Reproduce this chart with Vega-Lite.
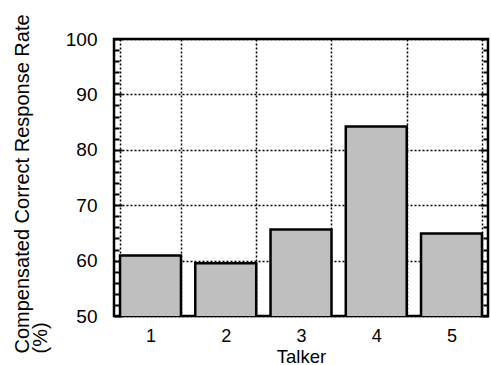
{
  "$schema": "https://vega.github.io/schema/vega-lite/v6.json",
  "autosize": "none",
  "width": 374,
  "height": 277,
  "padding": {"left": 114, "top": 39, "right": 3, "bottom": 49},
  "background": "white",
  "config": {
    "view": {"stroke": "black", "strokeWidth": 2.5},
    "font": "Liberation Sans",
    "axis": {"domain": false, "labelColor": "black", "titleColor": "black", "labelFont": "Liberation Sans", "titleFont": "Liberation Sans", "tickColor": "black"},
    "axisX": {"labelFontSize": 18, "titleFontSize": 18.5, "titleFontWeight": "normal"}
  },
  "data": {"values": [
    {"talker": "1", "rate": 60.9},
    {"talker": "2", "rate": 59.5},
    {"talker": "3", "rate": 65.6},
    {"talker": "4", "rate": 84.2},
    {"talker": "5", "rate": 64.9}
  ]},
  "encoding": {
    "x": {"field": "talker", "type": "ordinal", "scale": {"paddingInner": 0.19, "paddingOuter": 0.08},
      "axis": {"title": "Talker", "labelAngle": 0, "labelFontSize": 18, "labelPadding": 11, "titleFontSize": 18.5, "titleFontWeight": "normal", "titlePadding": 2, "ticks": false, "grid": true, "tickBand": "extent", "gridDash": [2, 2], "gridColor": "black", "gridWidth": 1.5, "gridOpacity": 1}}
  },
  "resolve": {"axis": {"y": "independent"}},
  "layer": [
    {
      "mark": {"type": "bar", "fill": "#bfbfbf", "stroke": "black", "strokeWidth": 2.5, "clip": true},
      "encoding": {
        "y": {"field": "rate", "type": "quantitative", "scale": {"domain": [50, 100], "nice": false, "zero": false},
          "axis": {"orient": "left", "values": [50, 52, 54, 56, 58, 60, 62, 64, 66, 68, 70, 72, 74, 76, 78, 80, 82, 84, 86, 88, 90, 92, 94, 96, 98, 100],
            "labelExpr": "datum.value % 10 === 0 ? datum.label : ''",
            "tickSize": {"condition": {"test": "datum.value % 10 === 0", "value": -8}, "value": -5},
            "tickWidth": 2, "labelFontSize": 19, "labelPadding": 25,
            "grid": true, "gridDash": [2, 2], "gridColor": "black", "gridWidth": 1.5,
            "gridOpacity": {"condition": {"test": "datum.value % 10 === 0", "value": 1}, "value": 0},
            "title": ["Compensated Correct Response Rate", "(%)"], "titleFontSize": 20, "titleFontWeight": "normal", "titleAnchor": "start", "titleAngle": 270, "titleAlign": "left", "titleBaseline": "top", "titleX": -102, "titleY": 314, "titleLineHeight": 18}}
      }
    },
    {
      "mark": {"type": "bar", "opacity": 0, "clip": true},
      "encoding": {
        "y": {"field": "rate", "type": "quantitative",
          "axis": {"orient": "right", "values": [50, 52, 54, 56, 58, 60, 62, 64, 66, 68, 70, 72, 74, 76, 78, 80, 82, 84, 86, 88, 90, 92, 94, 96, 98, 100],
            "labels": false, "title": null, "grid": false,
            "tickSize": {"condition": {"test": "datum.value % 10 === 0", "value": -8}, "value": -5},
            "tickWidth": 2}}
      }
    }
  ]
}
